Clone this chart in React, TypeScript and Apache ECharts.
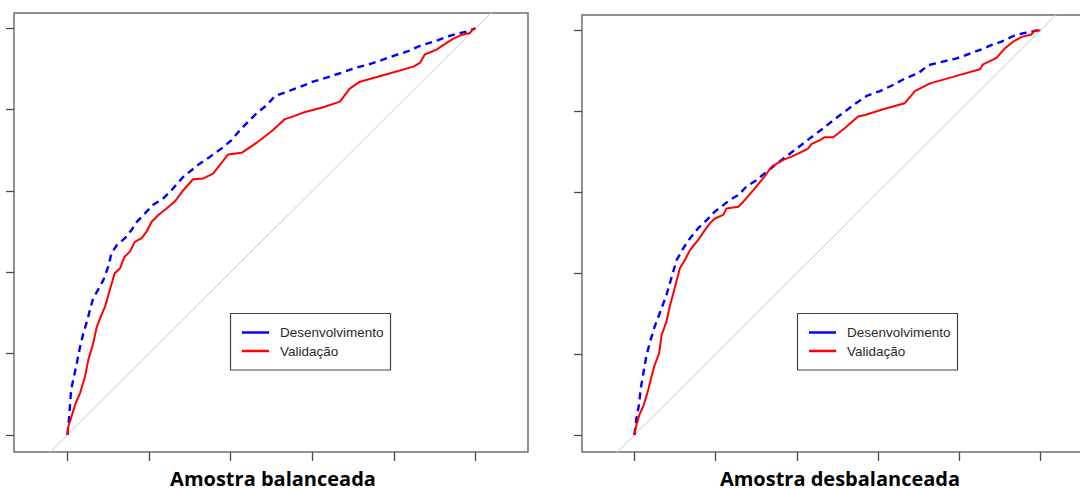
import React, { useEffect, useRef } from "react";
import * as echarts from "echarts";

// ROC-style curves (x = 1 - especificidade, y = sensibilidade)
const tickValues = [0, 0.2, 0.4, 0.6, 0.8, 1];
const seriesNames = ["Desenvolvimento", "Validação"];
const panelTitles = ["Amostra balanceada", "Amostra desbalanceada"];

const balDev: [number, number][] = [
  [0, 0], [0.004, 0.042], [0.009, 0.111], [0.023, 0.177], [0.031, 0.217], [0.039, 0.25],
  [0.049, 0.283], [0.055, 0.307], [0.063, 0.336], [0.075, 0.357], [0.088, 0.381], [0.1, 0.414],
  [0.108, 0.447], [0.121, 0.467], [0.141, 0.484], [0.157, 0.504], [0.17, 0.524], [0.19, 0.545],
  [0.21, 0.566], [0.235, 0.582], [0.255, 0.602], [0.284, 0.635], [0.325, 0.668], [0.349, 0.684],
  [0.378, 0.705], [0.402, 0.725], [0.423, 0.75], [0.447, 0.775], [0.464, 0.791], [0.488, 0.811],
  [0.509, 0.834], [0.537, 0.844], [0.57, 0.856], [0.602, 0.869], [0.635, 0.879], [0.672, 0.891],
  [0.705, 0.903], [0.737, 0.911], [0.77, 0.922], [0.803, 0.934], [0.835, 0.944], [0.868, 0.959],
  [0.897, 0.967], [0.929, 0.979], [0.958, 0.988], [0.978, 0.992], [1, 1],
];

const balVal: [number, number][] = [
  [0, 0], [0.002, 0.02], [0.01, 0.045], [0.02, 0.078], [0.031, 0.103], [0.043, 0.143],
  [0.051, 0.184], [0.063, 0.225], [0.072, 0.266], [0.08, 0.287], [0.092, 0.315], [0.104, 0.357],
  [0.116, 0.398], [0.129, 0.41], [0.139, 0.437], [0.153, 0.451], [0.165, 0.475], [0.182, 0.484],
  [0.194, 0.5], [0.206, 0.524], [0.223, 0.541], [0.243, 0.557], [0.263, 0.574], [0.284, 0.602],
  [0.308, 0.629], [0.333, 0.631], [0.357, 0.643], [0.394, 0.69], [0.427, 0.694], [0.455, 0.713],
  [0.472, 0.725], [0.504, 0.75], [0.533, 0.777], [0.552, 0.783], [0.578, 0.793], [0.627, 0.806],
  [0.668, 0.82], [0.692, 0.852], [0.717, 0.869], [0.774, 0.885], [0.848, 0.906], [0.864, 0.915],
  [0.876, 0.936], [0.905, 0.948], [0.921, 0.959], [0.946, 0.975], [0.966, 0.984], [0.987, 0.989],
  [0.993, 0.998], [1, 1],
];

const desDev: [number, number][] = [
  [0, 0], [0.005, 0.041], [0.012, 0.078], [0.015, 0.111], [0.022, 0.152], [0.03, 0.198],
  [0.04, 0.235], [0.05, 0.268], [0.067, 0.313], [0.079, 0.346], [0.092, 0.391], [0.104, 0.432],
  [0.12, 0.461], [0.137, 0.486], [0.157, 0.511], [0.178, 0.531], [0.198, 0.552], [0.219, 0.568],
  [0.235, 0.581], [0.256, 0.593], [0.276, 0.614], [0.301, 0.63], [0.326, 0.651], [0.363, 0.68],
  [0.4, 0.708], [0.432, 0.733], [0.465, 0.758], [0.502, 0.787], [0.539, 0.815], [0.572, 0.838],
  [0.605, 0.85], [0.637, 0.865], [0.666, 0.881], [0.699, 0.894], [0.724, 0.914], [0.757, 0.922],
  [0.794, 0.931], [0.822, 0.941], [0.855, 0.953], [0.88, 0.964], [0.904, 0.972], [0.933, 0.986],
  [0.958, 0.993], [0.978, 0.997], [0.994, 1], [1, 1],
];

const desVal: [number, number][] = [
  [0, 0], [0.004, 0.021], [0.012, 0.049], [0.023, 0.074], [0.034, 0.111], [0.042, 0.144],
  [0.05, 0.173], [0.061, 0.202], [0.067, 0.247], [0.079, 0.28], [0.087, 0.317], [0.1, 0.366],
  [0.112, 0.412], [0.124, 0.432], [0.137, 0.457], [0.157, 0.482], [0.174, 0.507], [0.186, 0.523],
  [0.198, 0.535], [0.219, 0.544], [0.227, 0.56], [0.256, 0.564], [0.268, 0.576], [0.293, 0.605],
  [0.317, 0.634], [0.338, 0.663], [0.367, 0.68], [0.387, 0.688], [0.408, 0.698], [0.428, 0.708],
  [0.436, 0.719], [0.457, 0.729], [0.469, 0.736], [0.49, 0.736], [0.518, 0.758], [0.551, 0.787],
  [0.568, 0.791], [0.613, 0.805], [0.666, 0.82], [0.691, 0.85], [0.728, 0.869], [0.785, 0.885],
  [0.851, 0.904], [0.859, 0.916], [0.892, 0.932], [0.913, 0.956], [0.933, 0.972], [0.954, 0.984],
  [0.978, 0.99], [0.986, 1], [1, 1],
];

const diagonal: [number, number][] = [[-0.5, -0.5], [1.5, 1.5]];

const BLUE = "#0000ff";
const RED = "#ff0000";
const BOX = "#6f6f6f";
const TICK = "#4a4a4a";

export default function App() {
  const ref = useRef<HTMLDivElement>(null);

  useEffect(() => {
    if (!ref.current) return;
    document.documentElement.style.overflow = "hidden";
    document.body.style.overflow = "hidden";
    const chart = echarts.init(ref.current, null, { renderer: "svg" });

    const grids = [
      { left: 14, top: 13, width: 514, height: 439 },
      { left: 582, top: 15, width: 514, height: 437 },
    ];

    const xAxis = grids.map((_, i) => ({
      type: "value",
      gridIndex: i,
      position: "bottom",
      min: i === 0 ? -0.131 : -0.129,
      max: i === 0 ? 1.129 : 1.137,
      axisLine: { show: false, onZero: false },
      axisLabel: { show: false },
      splitLine: { show: false },
      axisTick: {
        show: true,
        inside: false,
        length: 9,
        customValues: tickValues,
        lineStyle: { color: TICK, width: 1.3 },
      },
    }));

    const yAxis = grids.map((_, i) => ({
      type: "value",
      gridIndex: i,
      position: "left",
      min: -0.042,
      max: 1.038,
      axisLine: { show: false, onZero: false },
      axisLabel: { show: false },
      splitLine: { show: false },
      axisTick: {
        show: true,
        inside: false,
        length: 8,
        customValues: tickValues,
        lineStyle: { color: TICK, width: 1.3 },
      },
    }));

    const panels = [
      { dev: balDev, val: balVal },
      { dev: desDev, val: desVal },
    ];

    const series: any[] = [];
    panels.forEach((p, i) => {
      series.push({
        type: "line",
        xAxisIndex: i,
        yAxisIndex: i,
        data: diagonal,
        symbol: "none",
        clip: true,
        silent: true,
        lineStyle: { color: "#c8c8c8", width: 1 },
      });
      series.push({
        name: seriesNames[0],
        type: "line",
        xAxisIndex: i,
        yAxisIndex: i,
        data: p.dev,
        symbol: "none",
        clip: true,
        lineStyle: { color: BLUE, width: 2.4, type: [7, 5] },
      });
      series.push({
        name: seriesNames[1],
        type: "line",
        xAxisIndex: i,
        yAxisIndex: i,
        data: p.val,
        symbol: "none",
        clip: true,
        lineStyle: { color: RED, width: 2 },
      });
    });

    const legendOffsets = [0, 567];
    const graphic: any[] = [];
    legendOffsets.forEach((dx) => {
      graphic.push({
        type: "rect",
        shape: { x: 230.5 + dx, y: 313.5, width: 160, height: 56.5 },
        style: { fill: "#fff", stroke: "#444", lineWidth: 1.2 },
        z: 10,
      });
      graphic.push({
        type: "line",
        shape: { x1: 242 + dx, y1: 332.5, x2: 269 + dx, y2: 332.5 },
        style: { stroke: BLUE, lineWidth: 2.5 },
        z: 11,
      });
      graphic.push({
        type: "line",
        shape: { x1: 242 + dx, y1: 351, x2: 269 + dx, y2: 351 },
        style: { stroke: RED, lineWidth: 2.5 },
        z: 11,
      });
      graphic.push({
        type: "text",
        x: 280 + dx,
        y: 332.5,
        style: {
          text: seriesNames[0],
          font: "13.5px 'Liberation Sans', Arial, sans-serif",
          fill: "#2a2a2a",
          verticalAlign: "middle",
        },
        z: 11,
      });
      graphic.push({
        type: "text",
        x: 280 + dx,
        y: 351,
        style: {
          text: seriesNames[1],
          font: "13.5px 'Liberation Sans', Arial, sans-serif",
          fill: "#2a2a2a",
          verticalAlign: "middle",
        },
        z: 11,
      });
    });

    const titleCenters = [273, 840];
    titleCenters.forEach((cx, i) => {
      graphic.push({
        type: "text",
        x: cx,
        y: 478,
        style: {
          text: panelTitles[i],
          font: "bold 20px 'Open Sans', Lato, sans-serif",
          fill: "#000",
          align: "center",
          verticalAlign: "middle",
        },
        z: 11,
      });
    });

    chart.setOption({
      animation: false,
      backgroundColor: "#ffffff",
      grid: grids.map((g) => ({
        ...g,
        show: true,
        borderColor: BOX,
        borderWidth: 1.5,
        backgroundColor: "transparent",
      })),
      xAxis,
      yAxis,
      series,
      graphic,
    });

    return () => chart.dispose();
  }, []);

  return (
    <div
      ref={ref}
      style={{ position: "fixed", left: 0, top: 0, width: 1100, height: 489, background: "#fff" }}
    />
  );
}
